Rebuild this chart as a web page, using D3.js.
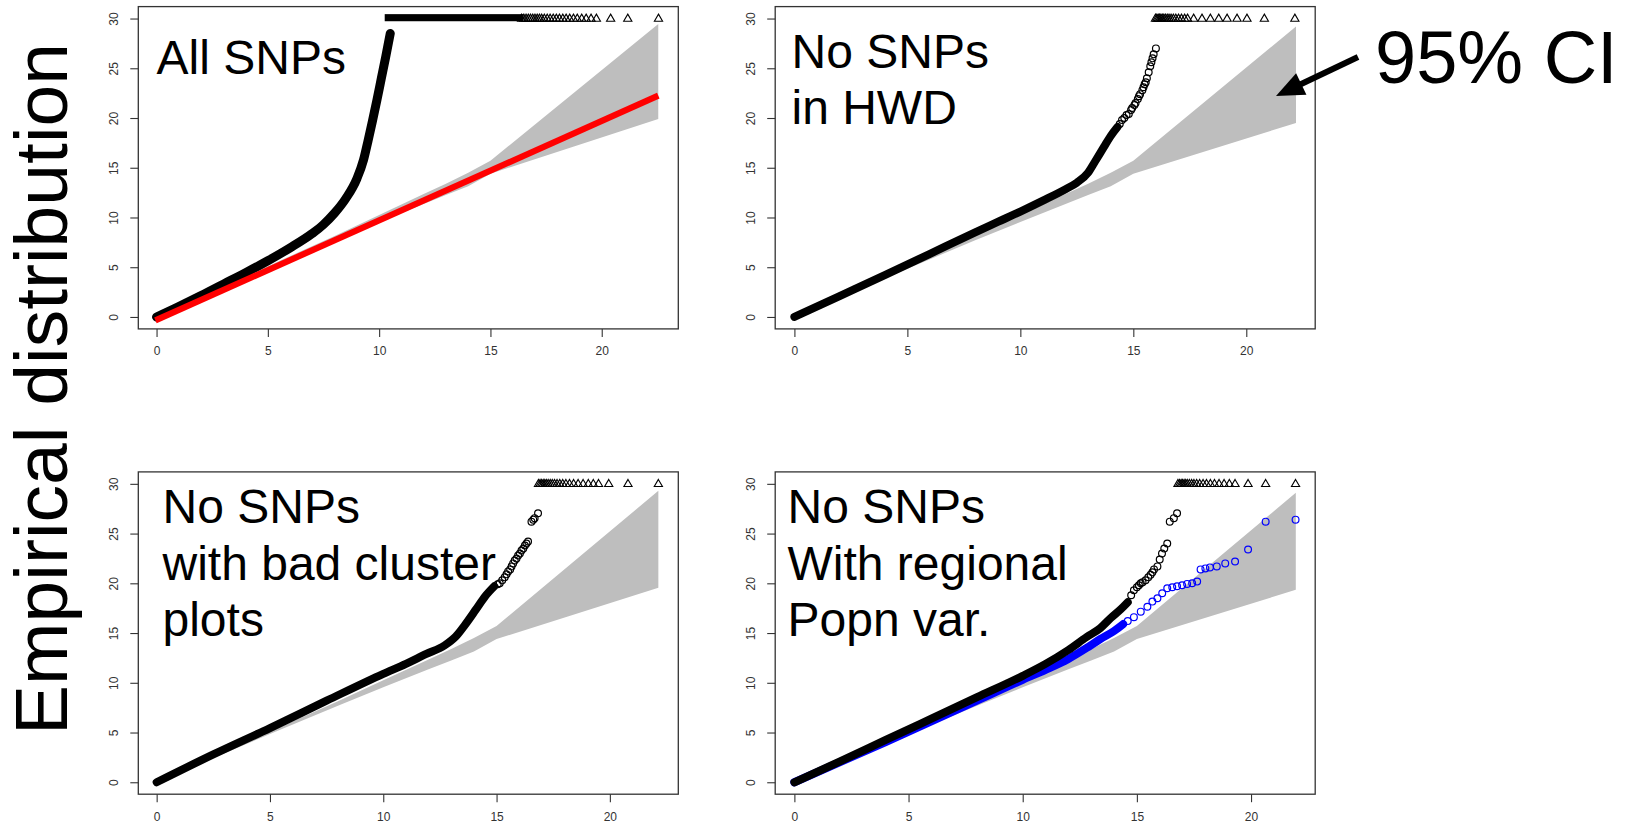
<!DOCTYPE html>
<html><head><meta charset="utf-8">
<script src="https://cdn.jsdelivr.net/npm/d3@7"></script>
<style>
body{margin:0;background:#fff}
svg{display:block}
text{font-family:"Liberation Sans",Arial,Helvetica,sans-serif}
</style>
</head><body>
<svg id="c" width="1634" height="826"></svg>
<script>
// ---------------- data ----------------
const xTicks = [0, 5, 10, 15, 20];
const yTicks = [0, 5, 10, 15, 20, 25, 30];
const capValue = 30;

// 95% CI band (expected quantile, lower, upper)
const p1CiX = [0, 2, 5, 8, 10, 12, 13, 14, 15, 22.54];
const p1CiLo = [0, 1.95, 4.85, 7.7, 9.55, 11.35, 12.25, 13.15, 14.4, 19.9];
const p1CiHi = [0, 2.05, 5.1, 8.15, 10.25, 12.35, 13.4, 14.5, 15.7, 29.46];
const p2CiX = [0, 2, 5, 8, 10, 12, 13, 14, 15, 22.2];
const p2CiLo = [0, 1.95, 4.85, 7.7, 9.55, 11.35, 12.25, 13.15, 14.4, 19.5];
const p2CiHi = [0, 2.05, 5.1, 8.15, 10.25, 12.35, 13.4, 14.5, 15.7, 29.2];
const p3CiX = [0, 2, 5, 8, 10, 12, 13, 14, 15, 22.14];
const p3CiLo = [0, 1.95, 4.85, 7.7, 9.55, 11.35, 12.25, 13.15, 14.4, 19.55];
const p3CiHi = [0, 2.05, 5.1, 8.15, 10.25, 12.35, 13.4, 14.5, 15.7, 29.3];
const p4CiX = [0, 2, 5, 8, 10, 12, 13, 14, 15, 21.96];
const p4CiLo = [0, 1.95, 4.85, 7.7, 9.55, 11.35, 12.25, 13.15, 14.4, 19.35];
const p4CiHi = [0, 2.05, 5.1, 8.15, 10.25, 12.35, 13.4, 14.5, 15.7, 29.1];

// Panel 1: All SNPs
const p1DenseX = [0, 1, 2, 3, 4, 5, 6, 7, 7.5, 8, 8.5, 9, 9.3, 9.5, 9.7, 9.9, 10.1, 10.3, 10.5];
const p1DenseY = [0, 1.05, 2.15, 3.3, 4.45, 5.65, 6.95, 8.4, 9.3, 10.45, 11.9, 13.9, 15.8, 17.7, 19.7, 21.8, 24.0, 26.2, 28.5];
const p1CapRun = [10.43, 16.3];
const p1CapX = [16.4, 16.5, 16.6, 16.7, 16.8, 16.9, 17.0, 17.1, 17.2, 17.3, 17.42, 17.55, 17.68, 17.82, 17.96, 18.1, 18.25, 18.4, 18.56, 18.73, 18.9, 19.1, 19.3, 19.52, 19.76, 20.4, 21.17, 22.55];
const refLineX = [-0.05, 22.54];
const refLineY = [-0.34, 22.25];

// Panel 2: No SNPs in HWD
const p2DenseX = [0, 2, 4, 6, 8, 9, 10, 11, 12, 12.5, 13.0, 13.3, 13.7, 14.0, 14.3];
const p2DenseY = [0, 2.1, 4.2, 6.35, 8.5, 9.55, 10.6, 11.7, 12.85, 13.5, 14.5, 15.6, 17.1, 18.2, 19.1];
const p2TailX = [14.4, 14.5, 14.6, 14.7, 14.8, 14.9, 14.95, 15.05, 15.1, 15.2, 15.25, 15.3, 15.4, 15.45, 15.5, 15.55, 15.6, 15.68, 15.75, 15.8, 15.85, 15.9, 16.0];
const p2TailY = [19.4, 19.8, 20.0, 20.3, 20.4, 20.8, 21.0, 21.3, 21.5, 21.9, 22.2, 22.4, 22.8, 23.1, 23.4, 23.6, 24.0, 24.6, 25.2, 25.6, 26.0, 26.4, 27.0];
const p2CapX = [15.98, 16.04, 16.1, 16.16, 16.22, 16.28, 16.35, 16.42, 16.5, 16.58, 16.67, 16.77, 16.88, 17.0, 17.13, 17.27, 17.4, 17.67, 18.04, 18.41, 18.78, 19.15, 19.59, 20.03, 20.8, 22.15];

// Panel 3: No SNPs with bad cluster plots
const p3DenseX = [0, 2.5, 5, 7.5, 10, 11, 11.9, 12.7, 13.2, 13.6, 14.1, 14.5, 14.9];
const p3DenseY = [0, 2.8, 5.45, 8.2, 10.9, 11.9, 12.9, 13.75, 14.65, 15.8, 17.4, 18.7, 19.7];
const p3TailX = [15.05, 15.14, 15.25, 15.36, 15.44, 15.51, 15.6, 15.66, 15.73, 15.8, 15.88, 15.95, 16.03, 16.1, 16.18, 16.25, 16.32, 16.39, 16.54, 16.62, 16.68, 16.83];
const p3TailY = [19.9, 20.0, 20.3, 20.6, 20.9, 21.2, 21.4, 21.7, 22.0, 22.3, 22.5, 22.8, 23.0, 23.3, 23.5, 23.8, 24.0, 24.2, 26.2, 26.4, 26.55, 27.05];
const p3CapX = [16.85, 16.92, 16.99, 17.06, 17.13, 17.2, 17.28, 17.37, 17.46, 17.56, 17.67, 17.79, 17.92, 18.06, 18.22, 18.4, 18.6, 18.82, 19.05, 19.27, 19.5, 19.95, 20.8, 22.14];

// Panel 4: No SNPs with regional population variation
const p4DenseX = [0, 2, 4, 6, 8, 10, 11, 12, 12.8, 13.4, 13.85, 14.3, 14.6];
const p4DenseY = [0, 2.1, 4.25, 6.4, 8.55, 10.7, 11.9, 13.3, 14.6, 15.5, 16.5, 17.4, 18.1];
const p4TailX = [14.75, 14.87, 15.0, 15.09, 15.17, 15.25, 15.38, 15.5, 15.6, 15.68, 15.75, 15.9, 16.0, 16.1, 16.2, 16.33, 16.44, 16.62, 16.76];
const p4TailY = [18.8, 19.3, 19.6, 19.8, 20.0, 20.1, 20.3, 20.6, 20.85, 21.1, 21.4, 21.7, 22.4, 23.0, 23.5, 24.0, 26.2, 26.55, 27.05];
const p4BlueDenseX = [0, 4, 8, 10, 11, 12, 12.8, 13.4, 14.0, 14.4];
const p4BlueDenseY = [0, 4.05, 8.2, 10.3, 11.3, 12.4, 13.5, 14.4, 15.2, 15.9];
const p4BlueTailX = [14.6, 14.87, 15.17, 15.46, 15.68, 15.9, 16.11, 16.33, 16.55, 16.76, 16.98, 17.2, 17.42, 17.64, 17.79, 18.0, 18.2, 18.5, 18.87, 19.3, 19.87, 20.64, 21.95];
const p4BlueTailY = [16.2, 16.6, 17.15, 17.65, 18.16, 18.5, 19.0, 19.5, 19.6, 19.7, 19.8, 19.94, 20.0, 20.17, 21.4, 21.5, 21.6, 21.7, 22.0, 22.2, 23.4, 26.2, 26.4];
const p4CapX = [16.8, 16.87, 16.94, 17.0, 17.07, 17.14, 17.21, 17.3, 17.4, 17.5, 17.62, 17.75, 17.9, 18.05, 18.22, 18.4, 18.6, 18.82, 19.05, 19.3, 19.87, 20.64, 21.95];

const p1Title = ["All SNPs"];
const p2Title = ["No SNPs", "in HWD"];
const p3Title = ["No SNPs", "with bad cluster", "plots"];
const p4Title = ["No SNPs", "With regional", "Popn var."];
const yAxisTitle = "Empirical distribution";
const ciLabel = "95% CI";

// ---------------- layout ----------------
const zip = (a, b) => a.map((v, i) => [v, b[i]]);
const panels = [
  { left: 138.3, top: 6.6, xlim: [-0.82, 23.44], titleX: 156.6, titleY: 74, lineW: 9,
    ci: [p1CiX, p1CiLo, p1CiHi], dense: [zip(p1DenseX, p1DenseY)], tails: [], capRun: p1CapRun, capX: p1CapX,
    ref: zip(refLineX, refLineY), title: p1Title },
  { left: 775.2, top: 6.6, xlim: [-0.85, 23.05], titleX: 791.5, titleY: 67.5, lineW: 8,
    ci: [p2CiX, p2CiLo, p2CiHi], dense: [zip(p2DenseX, p2DenseY)], tails: [[zip(p2TailX, p2TailY), "#000"]], capX: p2CapX,
    title: p2Title },
  { left: 138.3, top: 471.9, xlim: [-0.81, 23.02], titleX: 162.5, titleY: 523, lineW: 8,
    ci: [p3CiX, p3CiLo, p3CiHi], dense: [zip(p3DenseX, p3DenseY)], tails: [[zip(p3TailX, p3TailY), "#000"]], capX: p3CapX,
    title: p3Title },
  { left: 775.2, top: 471.9, xlim: [-0.84, 22.81], titleX: 787.5, titleY: 523, lineW: 8,
    ci: [p4CiX, p4CiLo, p4CiHi],
    blueDense: zip(p4BlueDenseX, p4BlueDenseY),
    dense: [zip(p4DenseX, p4DenseY)],
    tails: [[zip(p4BlueTailX, p4BlueTailY), "#0000ff"], [zip(p4TailX, p4TailY), "#000"]], capX: p4CapX,
    title: p4Title }
];
const boxW = 540, boxH = 322.3, ylim = [-1.2, 31.2];
const titleSize = 48, titleLead = 56.6;

const svg = d3.select("#c");
const triPath = "M0,-4.4 L4.1,2.7 L-4.1,2.7 Z";

panels.forEach(p => {
  const x = d3.scaleLinear().domain(p.xlim).range([p.left, p.left + boxW]);
  const y = d3.scaleLinear().domain(ylim).range([p.top + boxH, p.top]);
  const g = svg.append("g");

  // CI band
  const [cx, lo, hi] = p.ci;
  const band = cx.map((v, i) => ({x: v, lo: lo[i], hi: hi[i]}));
  g.append("path").datum(band)
    .attr("d", d3.area().x(d => x(d.x)).y0(d => y(d.lo)).y1(d => y(d.hi)))
    .attr("fill", "#bebebe");

  const line = d3.line().x(d => x(d[0])).y(d => y(d[1])).curve(d3.curveMonotoneX);

  if (p.blueDense) {
    g.append("path").datum(p.blueDense).attr("d", line)
      .attr("fill", "none").attr("stroke", "#0000ff").attr("stroke-width", p.lineW)
      .attr("stroke-linecap", "round").attr("stroke-linejoin", "round");
  }
  p.dense.forEach(d => {
    g.append("path").datum(d).attr("d", line)
      .attr("fill", "none").attr("stroke", "#000").attr("stroke-width", p.lineW)
      .attr("stroke-linecap", "round").attr("stroke-linejoin", "round");
  });
  p.tails.forEach(([pts, col]) => {
    g.selectAll(null).data(pts).enter().append("circle")
      .attr("cx", d => x(d[0])).attr("cy", d => y(d[1])).attr("r", 3.4)
      .attr("fill", "none").attr("stroke", col).attr("stroke-width", 1.2);
  });

  // capped points at 30
  if (p.capRun) {
    g.append("rect").attr("x", x(p.capRun[0]) - 4).attr("y", y(capValue) - 4.4)
      .attr("width", x(p.capRun[1]) - x(p.capRun[0]) + 8).attr("height", 7.1).attr("fill", "#000");
  }
  g.selectAll(null).data(p.capX).enter().append("path")
    .attr("d", triPath).attr("transform", d => `translate(${x(d)},${y(capValue)})`)
    .attr("fill", "none").attr("stroke", "#000").attr("stroke-width", 1.1);

  if (p.ref) {
    g.append("path").datum(p.ref).attr("d", d3.line().x(d => x(d[0])).y(d => y(d[1])))
      .attr("stroke", "#ff0000").attr("stroke-width", 6.2).attr("fill", "none");
  }

  // box
  g.append("rect").attr("x", p.left).attr("y", p.top).attr("width", boxW).attr("height", boxH)
    .attr("fill", "none").attr("stroke", "#333").attr("stroke-width", 1.3);

  // axes
  const bottom = p.top + boxH;
  const xa = g.append("g").attr("transform", `translate(0,${bottom})`)
    .call(d3.axisBottom(x).tickValues(xTicks).tickSize(8).tickPadding(10).tickFormat(d3.format("d")));
  xa.select(".domain").remove();
  const ya = g.append("g").attr("transform", `translate(${p.left},0)`)
    .call(d3.axisLeft(y).tickValues(yTicks).tickSize(8).tickFormat(d3.format("d")));
  ya.select(".domain").remove();
  ya.selectAll(".tick text").attr("transform", "rotate(-90)").attr("x", 0).attr("y", -20)
    .attr("dy", 0).attr("text-anchor", "middle");
  [xa, ya].forEach(a => {
    a.selectAll(".tick line").attr("stroke", "#333").attr("stroke-width", 1.1);
    a.selectAll(".tick text").attr("fill", "#333").style("font-size", "12px")
      .style("font-family", '"Liberation Sans", Arial, sans-serif');
  });

  // title
  p.title.forEach((t, i) => {
    g.append("text").attr("x", p.titleX).attr("y", p.titleY + i * titleLead)
      .attr("font-size", titleSize).attr("fill", "#000").text(t);
  });
});

// axis title
svg.append("text").attr("transform", "translate(67,389) rotate(-90)")
  .attr("text-anchor", "middle").attr("font-size", 75).attr("fill", "#000").text(yAxisTitle);

// 95% CI annotation
svg.append("text").attr("x", 1375).attr("y", 83).attr("font-size", 74).attr("fill", "#000").text(ciLabel);
const tail = [1358, 57], tip = [1276, 96];
const dx = tip[0] - tail[0], dy = tip[1] - tail[1], L = Math.hypot(dx, dy);
const ux = dx / L, uy = dy / L, hl = 28, hw = 12;
const bx = tip[0] - hl * ux, by = tip[1] - hl * uy;
svg.append("line").attr("x1", tail[0]).attr("y1", tail[1]).attr("x2", bx + 3 * ux).attr("y2", by + 3 * uy)
  .attr("stroke", "#000").attr("stroke-width", 6);
svg.append("path").attr("d", `M${tip[0]},${tip[1]} L${bx - hw * uy},${by + hw * ux} L${bx + hw * uy},${by - hw * ux} Z`)
  .attr("fill", "#000");
</script>
</body></html>
